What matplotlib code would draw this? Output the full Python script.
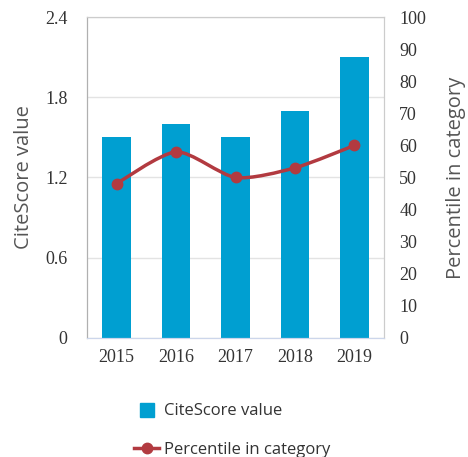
import matplotlib.pyplot as plt
import matplotlib.transforms as mtransforms
from matplotlib.path import Path
from matplotlib.patches import PathPatch
from matplotlib.lines import Line2D
import numpy as np

years = ['2015', '2016', '2017', '2018', '2019']
citescore = [1.5, 1.6, 1.5, 1.7, 2.1]
percentile = [48, 58, 50, 53, 60]

bar_color = '#009fd1'
line_color = '#b23a40'
label_font = 'Open Sans'
tick_font = 'Liberation Serif'

fig = plt.figure(figsize=(4.68, 4.57), dpi=100)
ax = fig.add_axes([0.186, 0.2604, 0.6345, 0.7024])
ax2 = ax.twinx()

x = np.arange(len(years))
ax.bar(x, citescore, width=0.48, color=bar_color, zorder=2)
ax.set_xlim(-0.5, len(years) - 0.5)
ax.set_ylim(0, 2.4)
ax.set_yticks([0, 0.6, 1.2, 1.8, 2.4])
ax.set_yticklabels(['0', '0.6', '1.2', '1.8', '2.4'])
ax.set_xticks(x)
ax.set_xticklabels(years)
ax.grid(axis='y', color='#e3e3e3', linewidth=1)
ax.set_axisbelow(True)

# smooth line through the points (spline-like bezier)
pts = list(zip(x, percentile))
verts = [pts[0]]
codes = [Path.MOVETO]
sm = 1.5
for i in range(len(pts) - 1):
    p0 = pts[i - 1] if i > 0 else pts[i]
    p1 = pts[i]
    p2 = pts[i + 1]
    p3 = pts[i + 2] if i + 2 < len(pts) else pts[i + 1]
    c1 = (p1[0] + (p2[0] - p0[0]) / (2 * sm + 1) / 2,
          p1[1] + (p2[1] - p0[1]) / (2 * sm + 1) / 2)
    c2 = (p2[0] - (p3[0] - p1[0]) / (2 * sm + 1) / 2,
          p2[1] - (p3[1] - p1[1]) / (2 * sm + 1) / 2)
    if i == 0:
        c1 = p1
    if i == len(pts) - 2:
        c2 = p2
    verts += [c1, c2, p2]
    codes += [Path.CURVE4] * 3
ax2.add_patch(PathPatch(Path(verts, codes), facecolor='none',
                        edgecolor=line_color, linewidth=2.5, zorder=3))
ax2.plot(x, percentile, 'o', color=line_color, markersize=7.5, zorder=4)
ax2.set_ylim(0, 100)
ax2.set_yticks(range(0, 101, 10))

down = mtransforms.ScaledTranslation(0, -4 / 100, fig.dpi_scale_trans)
for a in (ax, ax2):
    a.tick_params(length=0, labelsize=13, labelcolor='#333333')
    for lab in a.get_xticklabels() + a.get_yticklabels():
        lab.set_fontfamily(tick_font)
    for lab in a.get_yticklabels():
        lab.set_transform(lab.get_transform() + down)
    a.spines['left'].set_color('#b0b0b0')
    a.spines['top'].set_color('#cccccc')
    a.spines['right'].set_color('#cccccc')
    a.spines['bottom'].set_color('#ccd6eb')
ax.tick_params(axis='y', pad=14)
ax.tick_params(axis='x', pad=8)
ax2.tick_params(axis='y', pad=11)

ax.set_ylabel('CiteScore value', fontsize=14.5, color='#555555',
              fontfamily=label_font, labelpad=8)
ax2.set_ylabel('Percentile in category', fontsize=14.5, color='#555555',
               fontfamily=label_font, labelpad=14)

handles = [Line2D([], [], marker='s', linestyle='none', color=bar_color, markersize=9.5),
           Line2D([], [], marker='o', color=line_color, linewidth=2.5, markersize=7.5)]
fig.legend(handles, ['CiteScore value', 'Percentile in category'],
           loc='upper left', bbox_to_anchor=(0.255, 0.15), frameon=False,
           prop={'family': label_font, 'size': 12}, labelcolor='#333333',
           handlelength=1.5, handletextpad=0.3, labelspacing=1.35)

fig.savefig('out.png', dpi=100)
